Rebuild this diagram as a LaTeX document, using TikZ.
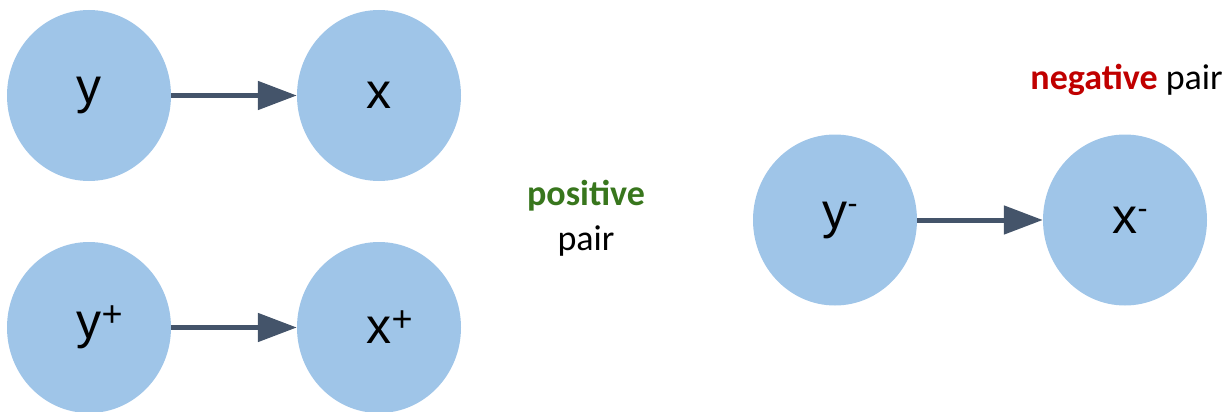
\documentclass[tikz,border=0pt]{standalone}
\usepackage{fontspec}
\setmainfont{Liberation Sans}
\newfontfamily\calibrifont{Carlito}
\usetikzlibrary{arrows.meta,shapes.geometric}
\definecolor{nodefill}{HTML}{9FC5E8}
\definecolor{arrowcol}{HTML}{44546A}
\definecolor{posgreen}{HTML}{38761D}
\definecolor{negred}{HTML}{C00000}
\newcommand\suptxt[3]{\rlap{\raisebox{#2}{\fontsize{#3}{#3}\selectfont #1}}}
\begin{document}
\begin{tikzpicture}[x=1pt,y=-1pt,
  var/.style={ellipse,fill=nodefill,draw=none,inner sep=0pt,
    minimum width=164pt,minimum height=171pt,
    font=\fontsize{50}{50}\selectfont},
  arr/.style={draw=arrowcol,line width=5pt,
    -{Triangle[length=39pt,width=28pt]}},
  lbl/.style={font=\calibrifont\fontsize{36}{44}\selectfont,inner sep=0pt}]
\useasboundingbox (0,0) rectangle (1227,412);
\node[var] (y) at (89,95.5) {y};
\node[var] (x) at (379,95.5) {x};
\node[var] (yp) at (89,327.5) {y\suptxt{+}{12pt}{36}};
\node[var] (xp) at (379,327.5) {x\suptxt{+}{12pt}{36}};
\node[var] (yn) at (835,220) {y\suptxt{-}{15pt}{30}};
\node[var] (xn) at (1125,220) {x\suptxt{-}{15pt}{30}};
\draw[arr] (y) -- (x);
\draw[arr] (yp) -- (xp);
\draw[arr] (yn) -- (xn);
\node[lbl,anchor=base,text=posgreen] (pos) at (586,205) {\bfseries positive};
\node[lbl,anchor=base] (pospair) at (586,250) {pair};
\node[lbl,anchor=base east] (neg) at (1223,90) {\textcolor{negred}{\bfseries negative} pair};
\end{tikzpicture}
\end{document}
